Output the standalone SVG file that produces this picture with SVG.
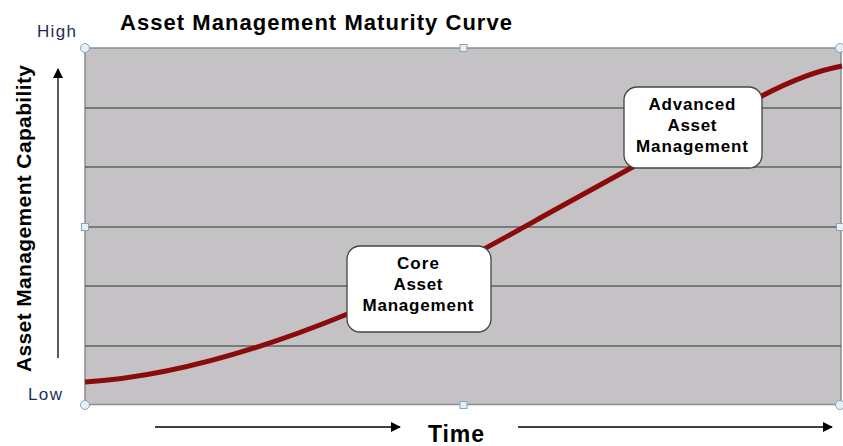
<svg xmlns="http://www.w3.org/2000/svg" width="843" height="446" viewBox="0 0 843 446">
<style>
.grid{stroke:#333;stroke-width:1.2}
.h{fill:#e4f0f8;stroke:#8aa4b8;stroke-width:1}
.box{fill:#fff;stroke:#444;stroke-width:1.3}
.bt{font-family:"Liberation Sans",Arial,sans-serif;font-weight:bold;font-size:17px;fill:#000;text-anchor:middle}
.ax{stroke:#000;stroke-width:1.3;fill:none}
.lbl{font-family:"Liberation Sans",Arial,sans-serif;font-size:17px;fill:#1f2d5c}
</style>
<defs>
<marker id="ah" viewBox="0 0 10 10" refX="9" refY="5" markerWidth="10" markerHeight="10" markerUnits="userSpaceOnUse" orient="auto">
<path d="M0,0 L10,5 L0,10 z" fill="#000"/>
</marker>
</defs>
<rect width="843" height="446" fill="#fff"/>
<g id="chart">
<rect x="85" y="48" width="756" height="356.5" fill="#c4c2c5" stroke="#8c8c8c" stroke-width="1.5"/>
<line class="grid" x1="85" y1="108" x2="841" y2="108"/>
<line class="grid" x1="85" y1="167" x2="841" y2="167"/>
<line class="grid" x1="85" y1="227" x2="841" y2="227"/>
<line class="grid" x1="85" y1="286" x2="841" y2="286"/>
<line class="grid" x1="85" y1="346" x2="841" y2="346"/>
</g>
<g id="connectors">
<path d="M85,382 C170,377 260,350 350,313 S500,240 560,207 S700,130 760,97 C790,81 815,71 842,66" fill="none" stroke="#8b0a0a" stroke-width="5"/>
<line class="ax" x1="58" y1="358" x2="58" y2="69" marker-end="url(#ah)"/>
<line class="ax" x1="155" y1="427" x2="400" y2="427" marker-end="url(#ah)"/>
<line class="ax" x1="518" y1="427" x2="832" y2="427" marker-end="url(#ah)"/>
</g>
<g id="handles">
<circle class="h" cx="85" cy="48" r="4.5"/>
<circle class="h" cx="840" cy="48" r="4.5"/>
<circle class="h" cx="85" cy="405" r="4.5"/>
<circle class="h" cx="840" cy="405" r="4.5"/>
<rect class="h" x="460" y="44.5" width="7" height="7"/>
<rect class="h" x="460" y="401.5" width="7" height="7"/>
<rect class="h" x="81.5" y="223.5" width="7" height="7"/>
<rect class="h" x="836.5" y="223.5" width="7" height="7"/>
</g>
<g id="core">
<rect class="box" x="347" y="246" width="144" height="86" rx="13"/>
<text class="bt" x="418" y="269" textLength="42">Core</text>
<text class="bt" x="418" y="290" textLength="49">Asset</text>
<text class="bt" x="418" y="311" textLength="111">Management</text>
</g>
<g id="advanced">
<rect class="box" x="624" y="87" width="138" height="81" rx="13"/>
<text class="bt" x="692" y="110" textLength="87">Advanced</text>
<text class="bt" x="692" y="131" textLength="49">Asset</text>
<text class="bt" x="692" y="152" textLength="112">Management</text>
</g>
<g id="labels">
<text x="120" y="30" textLength="392" font-family="'Liberation Sans',Arial,sans-serif" font-weight="bold" font-size="22" fill="#000">Asset Management Maturity Curve</text>
<text class="lbl" x="37" y="37" textLength="39">High</text>
<text class="lbl" x="28" y="400" textLength="34">Low</text>
<text x="0" y="0" transform="translate(31,218.5) rotate(-90)" text-anchor="middle" textLength="307" font-family="'Liberation Sans',Arial,sans-serif" font-weight="bold" font-size="21" fill="#000">Asset Management Capability</text>
<text x="456" y="442" text-anchor="middle" textLength="56" font-family="'Liberation Sans',Arial,sans-serif" font-weight="bold" font-size="23" fill="#000">Time</text>
</g>
</svg>
